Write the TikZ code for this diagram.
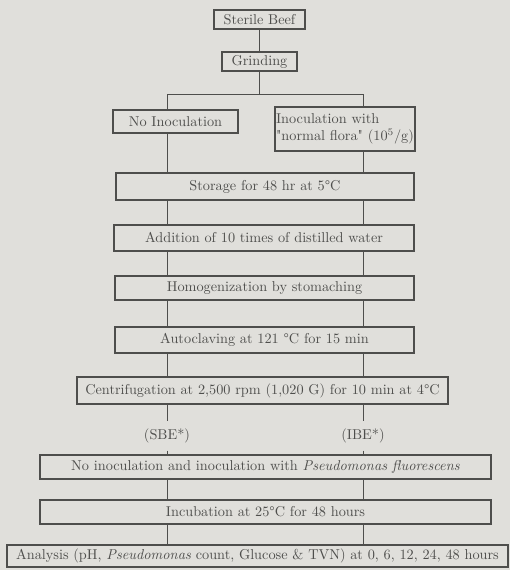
\documentclass[tikz,border=0pt]{standalone}
\usepackage{tikz}
\usetikzlibrary{positioning}
\usepackage{xcolor}
\definecolor{paper}{RGB}{224,223,219}
\definecolor{ink}{RGB}{78,78,76}

\begin{document}
\begin{tikzpicture}[x=0.7pt,y=-0.7pt,
	stepbox/.style={draw=ink, line width=0.8pt, text=ink, inner sep=1pt},
	tag/.style={text=ink, inner sep=5pt},
	link/.style={draw=ink, line width=0.7pt}]
					\fill[paper] (0,0) rectangle (510,570);
					\useasboundingbox (0,0) rectangle (510,570);
					
					\node[stepbox, minimum width=63.7pt, minimum height=13.3pt] (beef) at (259.5,19.5) {Sterile Beef};
					\node[stepbox, minimum width=52.5pt, minimum height=13.3pt] (grind) at (259.5,61.5) {Grinding};
					\node[stepbox, minimum width=87.5pt, minimum height=16.1pt] (noinoc) at (175.5,121.5) {No Inoculation};
					\node[stepbox, minimum width=98pt, minimum height=30.8pt, align=left, inner sep=0.5pt] (inoc) at (345,129) {Inoculation with\\\textquotedbl normal flora\textquotedbl\ (10$^5$/g)};
					
					\coordinate (fork) at (259.5,94);
					\coordinate (colL) at (167,94);
					\coordinate (colR) at (363,94);
					
					\node[stepbox, minimum width=208.6pt, minimum height=18.9pt] (store) at (265,186.5) {Storage for 48 hr at 5°C};
					\node[stepbox, minimum width=210pt, minimum height=18.2pt] (water) at (264,238) {Addition of 10 times of distilled water};
					\node[stepbox, minimum width=209.3pt, minimum height=16.8pt] (homog) at (264.5,288) {Homogenization by stomaching};
					\node[stepbox, minimum width=209.3pt, minimum height=18.2pt] (autoclave) at (264.5,340) {Autoclaving at 121 °C for 15 min};
					\node[stepbox, minimum width=259.7pt, minimum height=18.9pt] (centrif) at (262.5,390.5) {Centrifugation at 2,500 rpm (1,020 G) for 10 min at 4°C};
					
					\node[tag] (sbe) at (167,436) {(SBE*)};
					\node[tag] (ibe) at (363,436) {(IBE*)};
					
					\node[stepbox, minimum width=315.7pt, minimum height=16.8pt] (pseudo) at (265.5,467) {No inoculation and inoculation with \textit{Pseudomonas fluorescens}};
					\node[stepbox, minimum width=315.7pt, minimum height=16.8pt] (incub) at (265.5,512) {Incubation at 25°C for 48 hours};
					\node[stepbox, minimum width=350.7pt, minimum height=15.4pt] (analysis) at (257.5,556) {Analysis (pH, \textit{Pseudomonas} count, Glucose \& TVN) at 0, 6, 12, 24, 48 hours};
					
					\draw[link] (beef) -- (grind);
					\draw[link] (grind) -- (fork);
					\draw[link] (colL) -- (colR);
					\draw[link] (colL) -- (noinoc.north -| colL);
					\draw[link] (colR) -- (inoc.north -| colR);
					
					\draw[link] (noinoc.south -| colL) -- (store.north -| colL);
					\draw[link] (inoc.south -| colR) -- (store.north -| colR);
					\draw[link] (store.south -| colL) -- (water.north -| colL);
					\draw[link] (store.south -| colR) -- (water.north -| colR);
					\draw[link] (water.south -| colL) -- (homog.north -| colL);
					\draw[link] (water.south -| colR) -- (homog.north -| colR);
					\draw[link] (homog.south -| colL) -- (autoclave.north -| colL);
					\draw[link] (homog.south -| colR) -- (autoclave.north -| colR);
					\draw[link] (autoclave.south -| colL) -- (centrif.north -| colL);
					\draw[link] (autoclave.south -| colR) -- (centrif.north -| colR);
					
					\draw[link] (centrif.south -| sbe) -- (sbe);
					\draw[link] (centrif.south -| ibe) -- (ibe);
					\draw[link] (sbe) -- (pseudo.north -| sbe);
					\draw[link] (ibe) -- (pseudo.north -| ibe);
					
					\draw[link] (pseudo.south -| colL) -- (incub.north -| colL);
					\draw[link] (pseudo.south -| colR) -- (incub.north -| colR);
					\draw[link] (incub.south -| colL) -- (analysis.north -| colL);
					\draw[link] (incub.south -| colR) -- (analysis.north -| colR);
					
				\end{tikzpicture}
\end{document}
